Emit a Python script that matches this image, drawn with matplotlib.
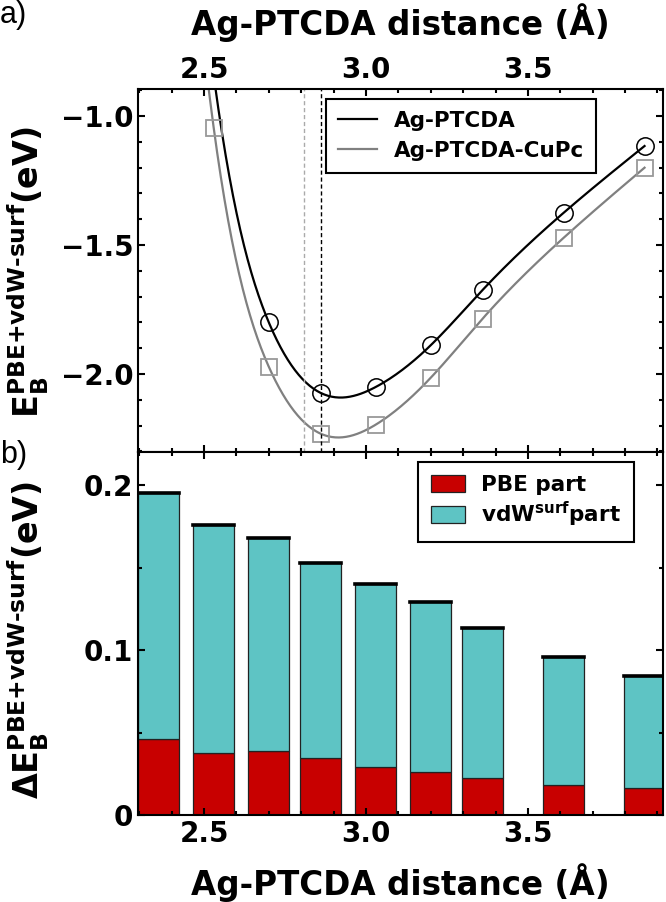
import numpy as np
import matplotlib
matplotlib.use('Agg')
import matplotlib.pyplot as plt
from matplotlib.ticker import MultipleLocator, FixedLocator
from matplotlib.patches import Patch

# Data
distance = [2.36, 2.53, 2.70, 2.86, 3.03, 3.20, 3.36, 3.61, 3.86]
eb_ag_ptcda = [1.30, -0.845, -1.800, -2.073, -2.050, -1.888, -1.674, -1.375, -1.116]
eb_ag_ptcda_cupc = [1.10, -1.048, -1.972, -2.231, -2.196, -2.014, -1.785, -1.472, -1.200]
pbe_part = [0.046, 0.0374, 0.039, 0.0343, 0.0289, 0.0259, 0.0224, 0.018, 0.0162]
delta_total = [0.195, 0.176, 0.168, 0.153, 0.140, 0.129, 0.1135, 0.0956, 0.0842]
eq_ag_ptcda = 2.861
eq_ag_ptcda_cupc = 2.809

plt.rcParams['font.family'] = 'DejaVu Sans'
plt.rcParams['font.weight'] = 'bold'
plt.rcParams['mathtext.fontset'] = 'dejavusans'
plt.rcParams['mathtext.default'] = 'bf'


# natural cubic spline through the data points (smooth guide line)
def spline_curve(x, y, num=400):
    x = np.asarray(x, float)
    y = np.asarray(y, float)
    n = len(x)
    h = np.diff(x)
    A = np.zeros((n, n))
    r = np.zeros(n)
    A[0, 0] = A[-1, -1] = 1
    for i in range(1, n - 1):
        A[i, i - 1] = h[i - 1]
        A[i, i] = 2 * (h[i - 1] + h[i])
        A[i, i + 1] = h[i]
        r[i] = 6 * ((y[i + 1] - y[i]) / h[i] - (y[i] - y[i - 1]) / h[i - 1])
    M = np.linalg.solve(A, r)
    xs = np.linspace(x[0], x[-1], num)
    k = np.clip(np.searchsorted(x, xs) - 1, 0, n - 2)
    t1 = x[k + 1] - xs
    t0 = xs - x[k]
    hk = h[k]
    ys = (M[k] * t1 ** 3 + M[k + 1] * t0 ** 3) / (6 * hk) \
        + (y[k] / hk - M[k] * hk / 6) * t1 + (y[k + 1] / hk - M[k + 1] * hk / 6) * t0
    return xs, ys


def style_axis(ax):
    for s in ax.spines.values():
        s.set_linewidth(1.5)
    ax.tick_params(which='both', direction='in', width=1.5,
                   top=True, bottom=True, left=True, right=True, labelsize=20)
    ax.tick_params(which='major', length=5)
    ax.tick_params(which='minor', length=3)
    ax.xaxis.set_major_locator(MultipleLocator(0.5))
    ax.xaxis.set_minor_locator(MultipleLocator(0.1))
    for lab in ax.get_xticklabels() + ax.get_yticklabels():
        lab.set_fontweight('bold')


fig = plt.figure(figsize=(6.66, 9.02), dpi=100)
W, H = 666.0, 902.0
ax1 = fig.add_axes([138 / W, 1 - 452 / H, 525 / W, 363 / H])
ax2 = fig.add_axes([138 / W, 1 - 815 / H, 525 / W, 363 / H])
xlim = (2.296, 3.917)

# ---- panel a ----
xs, ys = spline_curve(distance, eb_ag_ptcda)
ax1.plot(xs, ys, color='black', lw=1.6, label='Ag-PTCDA')
xs, ys = spline_curve(distance, eb_ag_ptcda_cupc)
ax1.plot(xs, ys, color='#808080', lw=1.6, label='Ag-PTCDA-CuPc')
ax1.plot(distance, eb_ag_ptcda, 'o', mfc='none', mec='black', ms=12.5, mew=1.1)
ax1.plot(distance, eb_ag_ptcda_cupc, 's', mfc='none', mec='#999999', ms=11.5, mew=1.3)
ax1.axvline(eq_ag_ptcda_cupc, color='#aaaaaa', ls=(0, (3, 2)), lw=1.0)
ax1.axvline(eq_ag_ptcda, color='black', ls=(0, (3, 2)), lw=1.0)
ax1.set_xlim(xlim)
ax1.set_ylim(-2.302, -0.895)
ax1.yaxis.set_major_locator(MultipleLocator(0.5))
ax1.yaxis.set_minor_locator(MultipleLocator(0.1))
style_axis(ax1)
ax1.tick_params(labelbottom=False, labeltop=True)
ax1.set_xlabel('Ag-PTCDA distance (Å)', fontsize=23.5, fontweight='bold', labelpad=15)
ax1.xaxis.set_label_position('top')
leg1 = ax1.legend(loc='upper left', bbox_to_anchor=(0.358, 0.972), borderaxespad=0,
                  fancybox=False, framealpha=1, edgecolor='black',
                  prop={'size': 15.5, 'weight': 'bold'}, handlelength=1.8,
                  borderpad=0.55, labelspacing=0.45)
leg1.get_frame().set_linewidth(1.5)

# ---- panel b ----
bar_w = 0.126
vdw_part = [t - p for t, p in zip(delta_total, pbe_part)]
ax2.bar(distance, pbe_part, width=bar_w, color='#c80000', edgecolor='#222222', lw=0.9)
ax2.bar(distance, vdw_part, width=bar_w, bottom=pbe_part, color='#5ec4c4',
        edgecolor='#222222', lw=0.9)
ax2.hlines(delta_total, [d - bar_w / 2 for d in distance], [d + bar_w / 2 for d in distance],
           color='black', lw=2.6, capstyle='projecting')
ax2.set_xlim(xlim)
ax2.set_ylim(0, 0.22)
ax2.yaxis.set_major_locator(FixedLocator([0, 0.1, 0.2]))
ax2.yaxis.set_minor_locator(MultipleLocator(0.05))
ax2.set_yticklabels(['0', '0.1', '0.2'])
style_axis(ax2)
ax2.set_xlabel('Ag-PTCDA distance (Å)', fontsize=23.5, fontweight='bold', labelpad=11)
handles = [Patch(facecolor='#c80000', edgecolor='#222222', lw=0.9),
           Patch(facecolor='#5ec4c4', edgecolor='#222222', lw=0.9)]
leg2 = ax2.legend(handles, ['PBE part', r'vdW$^{\mathbf{surf}}$part'], loc='upper left',
                  bbox_to_anchor=(0.533, 0.972), borderaxespad=0, fancybox=False,
                  framealpha=1, edgecolor='black', prop={'size': 15.5, 'weight': 'bold'},
                  handlelength=1.6, handleheight=0.8, handletextpad=0.75,
                  borderpad=0.6, labelspacing=0.2)
leg2.get_frame().set_linewidth(1.5)

# y labels
fig.text(28 / W, 1 - 272 / H, r'$E_B^{PBE\text{+}vdW\text{-}surf}$(eV)', rotation=90,
         ha='center', va='center', fontsize=24, fontweight='bold')
fig.text(28 / W, 1 - 640 / H, r'$\Delta E_B^{PBE\text{+}vdW\text{-}surf}$(eV)', rotation=90,
         ha='center', va='center', fontsize=24, fontweight='bold')

# panel letters
fig.text(0.0, 1.0, 'a)', fontsize=22, family='Liberation Sans', fontweight='normal',
         ha='left', va='top')
fig.text(0.0, 1 - 440 / H, 'b)', fontsize=22, family='Liberation Sans',
         fontweight='normal', ha='left', va='top')

fig.savefig('out.png', dpi=100)
